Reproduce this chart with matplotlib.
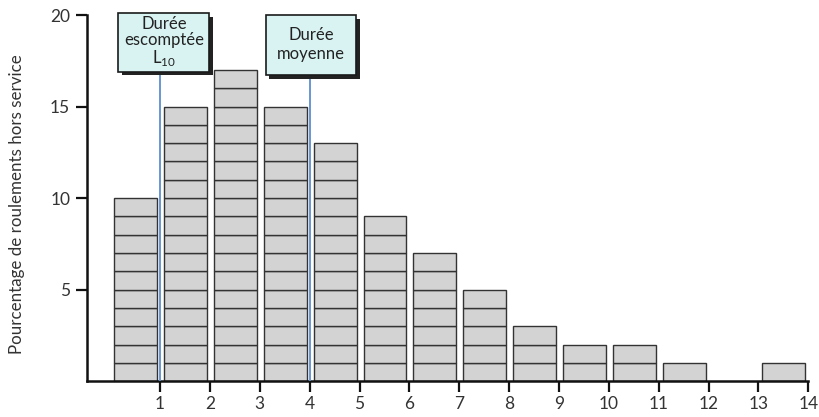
import matplotlib
matplotlib.use("Agg")
import matplotlib.pyplot as plt
from matplotlib.patches import Rectangle

# Failure distribution per life interval (in multiples of rated life)
intervals = list(range(14))
failure_pct = [10, 15, 17, 15, 13, 9, 7, 5, 3, 2, 2, 1, 0, 1]
x_ticks = list(range(1, 15))
y_ticks = [5, 10, 15, 20]
ylabel = "Pourcentage de roulements hors service"
marker_positions = [1, 4]
marker_labels = ["Durée\nescomptée\nL$_{10}$", "Durée\nmoyenne"]

plt.rcParams["font.family"] = ["Lato", "DejaVu Sans"]
plt.rcParams["mathtext.fontset"] = "custom"
plt.rcParams["mathtext.rm"] = "Lato"

fig = plt.figure(figsize=(8.19, 4.17), dpi=100)
ax = fig.add_axes([0.106, 0.086, 0.881, 0.878])

bar_color = "#d3d3d3"
edge_color = "#333333"
width = 0.86
offset = 0.08

# Each bar is a stack of one-percent blocks
for x0, v in zip(intervals, failure_pct):
    for k in range(v):
        ax.bar(x0 + offset, 1, width=width, bottom=k, align="edge",
               color=bar_color, edgecolor=edge_color, linewidth=1.0, zorder=2)

# Vertical markers for L10 life and mean life
box_geom = [(0.16, 16.9, 1.83, 3.2), (3.12, 16.7, 1.81, 3.3)]
text_dy = [0.0, 0.05]
spacing = [1.0, 1.2]
for xm, lab, (bx, by, bw, bh), dy, ls in zip(marker_positions, marker_labels,
                                             box_geom, text_dy, spacing):
    ax.plot([xm, xm], [0, by], color="#5b8fd0", linewidth=1.3, zorder=3)
    shadow = Rectangle((bx + 0.07, by - 0.2), bw, bh, facecolor="#222222",
                       edgecolor="none", zorder=4, clip_on=False)
    ax.add_patch(shadow)
    box = Rectangle((bx, by), bw, bh, facecolor="#d9f3f3", edgecolor="#1a1a1a",
                    linewidth=1.2, zorder=5, clip_on=False)
    ax.add_patch(box)
    ax.text(bx + bw / 2, by + bh / 2 + dy, lab, ha="center", va="center",
            fontsize=12, linespacing=ls, color="#222222", zorder=6)

ax.set_xlim(-0.47, 14.0)
ax.set_ylim(0, 20)
ax.set_xticks(x_ticks)
ax.set_yticks(y_ticks)
ax.tick_params(axis="both", direction="out", length=8, width=1.6,
               labelsize=12.5, colors="#111111", labelcolor="#333333")
ax.tick_params(axis="x", pad=3)
ax.tick_params(axis="y", pad=4)
for s in ["top", "right"]:
    ax.spines[s].set_visible(False)
for s in ["left", "bottom"]:
    ax.spines[s].set_linewidth(1.8)
    ax.spines[s].set_color("#111111")

fig.text(0.021, 0.51, ylabel, rotation=90, ha="center", va="center",
         fontsize=12.2, color="#333333")

fig.savefig("out.png", dpi=100)
